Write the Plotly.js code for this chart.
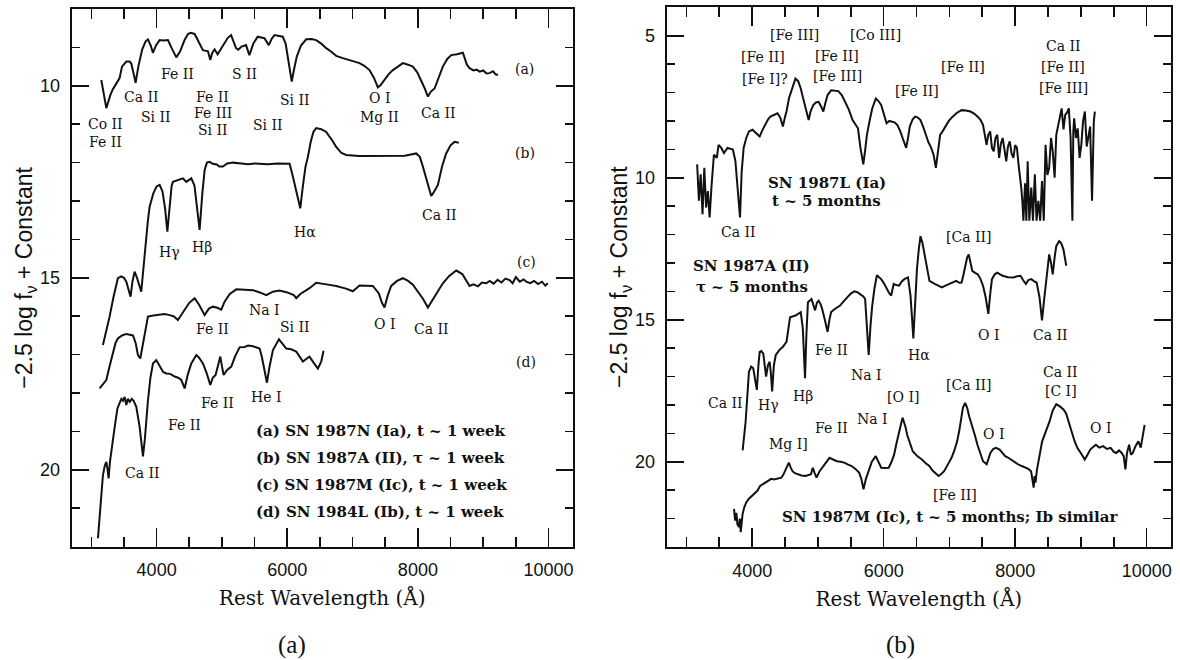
<!DOCTYPE html>
<html>
<head>
<meta charset="utf-8">
<script src="https://cdn.plot.ly/plotly-3.0.1.min.js"></script>
<style>html,body{margin:0;padding:0;background:#fff;}#chart{width:1180px;height:660px;}</style>
</head>
<body>
<div id="chart"></div>
<script>
// ---------- Panel (a): spectra ~1 week after maximum ----------
const sn87N_wl = [3153,3230,3290,3326,3380,3433,3470,3536,3587,3612,3650,3678,3720,3780,3830,3867,3910,3943,3990,4046,4100,4173,4240,4302,4360,4430,4480,4521,4582,4640,4709,4786,4822,4850,4888,4934,4980,5038,5090,5140,5180,5216,5250,5300,5369,5420,5480,5548,5600,5650,5717,5760,5804,5870,5931,5975,6008,6040,6069,6100,6146,6210,6290,6370,6443,6520,6596,6680,6749,6850,6953,7030,7106,7180,7259,7330,7387,7430,7489,7550,7617,7700,7770,7850,7923,7990,8051,8100,8153,8200,8255,8320,8382,8450,8511,8600,8650,8689,8720,8750,8791,8850,8900,8944,9000,9050,9097,9150,9190,9225];
const sn87N_mag = [9.85,10.58,10.25,10.1,9.95,9.8,9.5,9.37,9.37,9.42,9.7,9.92,9.5,9.05,8.85,8.79,8.95,9.14,8.95,8.81,8.82,8.81,9.05,9.26,9.1,8.8,8.65,8.62,8.65,8.85,9.07,9.1,9.33,9.15,9.05,9.18,9.05,8.92,8.75,8.68,8.85,9.02,9.06,8.98,8.94,9.2,8.9,8.72,8.74,8.76,8.94,8.78,8.68,8.7,8.72,8.9,9.24,9.6,9.89,9.6,9.24,8.95,8.79,8.78,8.81,8.9,9.02,9.12,9.22,9.28,9.33,9.37,9.41,9.48,9.59,9.8,10.04,9.98,9.85,9.7,9.59,9.48,9.41,9.45,9.5,9.65,9.85,10.05,10.28,10.15,10.07,9.8,9.5,9.3,9.2,9.18,9.16,9.14,9.3,9.45,9.54,9.6,9.58,9.63,9.6,9.68,9.67,9.62,9.7,9.72];

const sn87A1_wl = [3178,3230,3280,3340,3407,3459,3500,3536,3570,3601,3630,3663,3700,3740,3765,3790,3816,3840,3867,3893,3950,4000,4046,4090,4130,4164,4200,4230,4250,4320,4403,4454,4531,4580,4620,4658,4700,4735,4770,4811,4860,4920,4960,5015,5080,5168,5300,5400,5500,5577,5700,5850,5950,6036,6087,6140,6199,6240,6280,6316,6360,6400,6443,6520,6596,6680,6749,6830,6903,7100,7362,7600,7800,7974,8030,8076,8140,8204,8250,8306,8370,8433,8500,8561,8627];
const sn87A1_mag = [16.75,16.4,16.01,15.5,15.01,14.96,15.0,15.1,15.3,15.49,15.1,14.84,15.0,15.25,15.36,14.9,14.36,13.9,13.5,13.15,12.8,12.62,12.58,12.75,13.2,13.8,13.1,12.6,12.5,12.45,12.41,12.5,12.41,12.6,13.2,13.75,12.8,12.19,12.0,11.98,12.03,12.05,12.1,12.1,12.02,12.0,12.02,12.04,12.02,12.03,12.04,12.02,12.03,12.03,12.37,12.8,13.19,12.6,12.1,11.85,11.45,11.2,11.1,11.13,11.2,11.4,11.59,11.75,11.8,11.83,11.83,11.82,11.82,11.76,11.85,12.1,12.5,12.87,12.75,12.58,12.1,11.76,11.55,11.46,11.48];

const sn87M1_wl = [3127,3180,3230,3280,3331,3370,3407,3470,3536,3600,3638,3680,3714,3750,3790,3832,3867,3950,4046,4120,4199,4260,4326,4380,4429,4500,4582,4650,4735,4800,4862,4930,4990,5041,5120,5220,5350,5475,5580,5679,5780,5883,6000,6100,6138,6200,6341,6443,6600,6749,6900,7004,7106,7200,7310,7400,7450,7489,7540,7591,7680,7770,7850,7923,8000,8080,8153,8250,8320,8382,8480,8587,8680,8750,8791,8850,8920,8980,9046,9100,9160,9220,9280,9340,9403,9450,9500,9560,9620,9658,9720,9780,9840,9900,9950,9990];
const sn87M1_mag = [17.88,17.75,17.66,17.3,16.97,16.7,16.58,16.5,16.46,16.48,16.5,16.7,17.01,17.1,16.7,16.27,16.01,15.98,15.96,15.94,15.97,16.0,16.1,15.95,15.84,15.65,15.53,15.7,15.97,15.8,15.75,15.78,15.83,15.62,15.42,15.3,15.31,15.32,15.38,15.45,15.36,15.33,15.38,15.45,15.53,15.42,15.27,15.13,15.17,15.21,15.28,15.35,15.2,15.2,15.21,15.4,15.65,15.77,15.45,15.21,15.08,15.01,15.08,15.18,15.35,15.55,15.77,15.5,15.3,15.14,14.95,14.81,14.9,15.12,15.21,15.17,15.22,15.12,15.14,15.08,15.15,15.05,15.12,15.02,15.06,15.14,14.98,15.1,15.04,15.1,15.14,15.08,15.16,15.1,15.2,15.14];

const sn84L_wl = [3102,3130,3153,3178,3205,3230,3250,3265,3285,3306,3357,3400,3433,3460,3485,3510,3536,3560,3587,3620,3648,3689,3740,3765,3791,3820,3845,3867,3905,3944,3995,4046,4100,4148,4210,4276,4330,4378,4429,4480,4531,4608,4650,4709,4770,4822,4860,4903,4940,4975,5000,5026,5080,5143,5200,5270,5350,5400,5475,5577,5610,5638,5689,5730,5781,5873,5930,5985,6060,6138,6190,6240,6300,6341,6400,6469,6520,6556];
const sn84L_mag = [21.78,21.2,20.7,20.14,19.9,19.79,20.0,20.22,19.8,19.57,18.9,18.4,18.23,18.15,18.2,18.1,18.31,18.15,18.23,18.15,18.2,18.36,18.88,19.3,19.65,19.2,18.6,18.2,17.6,17.23,17.14,17.31,17.45,17.49,17.5,17.57,17.6,17.66,17.88,17.5,17.23,17.01,17.08,17.23,17.5,17.79,17.6,17.53,17.25,17.05,17.3,17.53,17.4,17.31,17.05,16.81,16.8,16.76,16.78,16.84,17.05,17.31,17.73,17.3,16.88,16.6,16.72,16.84,16.86,16.92,17.05,17.18,17.1,17.05,17.2,17.36,17.18,16.9];

// ---------- Panel (b): spectra ~5 months after maximum ----------
const sn87L_wl = [3163,3190,3217,3245,3272,3299,3326,3353,3380,3418,3462,3489,3530,3571,3625,3680,3707,3745,3788,3815,3840,3870,3910,3951,4005,4060,4114,4150,4196,4240,4277,4330,4386,4430,4467,4500,4522,4560,4603,4658,4700,4739,4780,4821,4859,4890,4929,4970,5011,5050,5082,5115,5147,5201,5260,5310,5365,5419,5470,5527,5570,5609,5647,5690,5720,5745,5790,5826,5881,5920,5962,6000,6044,6085,6125,6165,6207,6250,6288,6342,6370,6397,6440,6478,6520,6560,6600,6641,6680,6723,6760,6794,6825,6859,6900,6940,6990,7049,7110,7185,7250,7321,7380,7430,7470,7511,7540,7565,7590,7620,7647,7674,7700,7728,7756,7783,7810,7837,7864,7890,7918,7945,7973,8000,8027,8050,8071,8090,8109,8125,8150,8170,8190,8215,8245,8270,8299,8325,8353,8380,8408,8435,8462,8490,8517,8545,8571,8600,8625,8665,8707,8735,8761,8790,8816,8843,8870,8884,8897,8925,8951,8980,9006,9033,9060,9088,9114,9140,9169,9185,9196,9212];
const sn87L_mag = [9.53,10.81,9.88,11.28,9.65,11.05,10.47,11.4,10.35,9.19,9.3,8.84,8.95,9.13,8.95,9.0,9.01,9.42,10.81,11.4,9.8,8.95,8.6,8.37,8.31,8.43,8.55,8.35,8.14,7.95,7.85,7.8,7.73,7.9,8.2,7.85,7.67,7.2,6.86,6.51,6.6,6.86,7.25,7.67,7.97,7.65,7.44,7.35,7.33,7.5,7.67,7.35,7.09,6.92,6.93,6.95,7.1,7.33,7.6,7.97,8.1,8.26,8.95,9.53,9.0,8.49,7.95,7.56,7.21,7.3,7.44,7.75,8.08,8.0,8.02,8.05,8.14,8.35,8.6,8.95,8.6,8.2,7.95,7.85,7.88,7.97,8.2,8.49,8.75,8.95,9.2,9.65,9.0,8.49,8.35,8.2,8.0,7.85,7.72,7.62,7.63,7.67,7.75,7.85,7.95,8.14,8.6,8.84,8.5,8.37,8.95,9.07,8.6,8.49,9.3,8.8,8.6,9.1,9.42,8.9,8.72,9.15,9.3,8.85,8.95,9.5,9.88,10.3,10.81,11.51,10.2,11.51,9.42,11.51,10.35,11.51,9.88,11.51,10.81,11.51,10.12,11.51,8.84,9.9,9.65,8.6,9.07,10.0,8.49,8.0,7.56,8.3,7.79,7.7,7.56,8.6,11.51,8.4,7.91,8.6,8.26,9.3,8.84,8.0,7.67,8.9,8.49,8.2,10.81,8.5,8.02,7.67];

const sn87A5_wl = [3855,3900,3951,3985,4016,4045,4071,4095,4114,4140,4169,4190,4212,4240,4266,4285,4304,4330,4359,4413,4467,4522,4550,4576,4658,4739,4770,4790,4804,4825,4848,4902,4930,4957,4985,5011,5040,5065,5105,5147,5175,5201,5256,5300,5337,5390,5446,5500,5554,5600,5636,5690,5718,5745,5772,5800,5826,5860,5897,5930,5962,6000,6044,6080,6114,6152,6190,6234,6275,6315,6370,6408,6430,6451,6475,6506,6535,6560,6590,6625,6660,6696,6777,6830,6886,6940,6995,7050,7103,7150,7185,7215,7239,7270,7294,7320,7348,7390,7430,7470,7511,7550,7592,7620,7647,7690,7728,7770,7810,7890,7973,8030,8082,8120,8163,8200,8245,8290,8326,8370,8408,8440,8473,8500,8517,8545,8571,8600,8625,8669,8700,8734,8760,8777];
const sn87A5_mag = [19.6,18.6,16.83,16.65,16.71,17.1,17.47,16.6,16.13,16.1,16.19,16.6,17.0,16.6,16.48,16.9,17.52,16.6,16.24,16.07,15.95,15.78,15.3,14.91,14.85,14.73,15.3,16.4,17.06,15.5,14.38,14.27,14.5,14.67,14.4,14.33,14.45,14.62,15.0,15.43,15.0,14.73,14.62,14.55,14.5,14.35,14.21,14.08,14.0,14.03,14.09,14.18,14.27,15.2,16.24,15.2,14.5,13.9,13.43,13.5,13.57,13.7,13.92,14.05,14.15,13.74,13.78,13.8,13.65,13.57,13.51,14.15,14.9,15.66,14.6,13.22,12.5,12.06,12.3,12.76,13.3,13.63,13.74,13.8,13.86,13.8,13.74,13.68,13.63,13.7,13.69,13.4,13.1,12.8,12.7,12.95,13.28,13.35,13.4,13.55,13.8,14.2,14.79,14.1,13.57,13.4,13.34,13.4,13.45,13.5,13.51,13.47,13.45,13.6,13.74,13.6,13.57,13.65,13.69,14.2,15.02,14.3,13.69,13.0,12.7,13.0,13.4,12.8,12.41,12.23,12.3,12.52,12.8,13.1];

const sn87M5_wl = [3724,3741,3760,3775,3797,3812,3826,3840,3854,3880,3910,3950,3994,4040,4079,4120,4163,4205,4248,4290,4332,4390,4444,4475,4501,4530,4557,4585,4613,4650,4698,4750,4810,4855,4895,4910,4923,4950,4979,5020,5063,5120,5176,5230,5288,5345,5401,5460,5513,5570,5626,5660,5693,5730,5767,5820,5879,5920,5963,6020,6076,6120,6160,6190,6217,6245,6273,6288,6310,6335,6357,6400,6442,6510,6582,6640,6694,6740,6779,6835,6880,6919,6975,7032,7075,7117,7150,7173,7205,7239,7270,7300,7342,7385,7426,7470,7511,7567,7595,7623,7665,7707,7764,7805,7848,7890,7932,7990,8045,8100,8158,8200,8242,8260,8281,8295,8309,8330,8354,8380,8410,8440,8467,8495,8523,8570,8625,8680,8734,8775,8815,8861,8900,8945,9000,9058,9100,9142,9185,9227,9280,9339,9395,9452,9500,9536,9580,9620,9650,9677,9700,9733,9760,9789,9830,9874,9910,9947,9969];
const sn87M5_mag = [21.66,22.07,21.8,22.2,22.3,22.0,22.48,22.1,21.84,21.6,21.43,21.3,21.2,21.1,21.02,20.85,20.79,20.72,20.67,20.6,20.62,20.58,20.56,20.45,20.33,20.15,20.03,20.2,20.33,20.4,20.44,20.48,20.5,20.47,20.44,20.3,20.21,20.4,20.56,20.35,20.21,20.0,19.86,19.92,19.98,20.0,20.03,20.1,20.15,20.25,20.38,20.6,20.97,20.6,20.33,20.0,19.8,20.0,20.21,20.22,20.21,20.0,19.74,19.4,19.1,18.8,18.58,18.45,18.6,18.8,19.05,19.35,19.63,19.8,19.92,20.05,20.15,20.3,20.38,20.5,20.42,20.33,20.1,19.86,19.6,19.28,18.9,18.58,18.1,17.93,18.1,18.4,18.7,19.05,19.4,19.7,19.98,20.09,19.85,19.69,19.55,19.51,19.57,19.7,19.8,19.85,19.92,20.0,20.09,20.15,20.21,20.25,20.33,20.6,20.91,20.5,20.73,20.3,19.98,19.6,19.28,19.1,18.93,18.75,18.58,18.2,17.97,18.05,18.16,18.3,18.57,18.95,19.25,19.51,19.7,19.92,19.75,19.57,19.48,19.4,19.5,19.45,19.55,19.51,19.65,19.69,19.6,19.69,19.8,20.27,19.7,19.4,19.75,19.69,19.45,19.28,19.5,19.05,18.7];

// ---------- Line identifications: [text, wavelength, magnitude] ----------
const labelsA = [
  ["Co II",3219,10.99],["Fe II",3219,11.45],["Ca II",3766,10.3],["Si II",3995,10.82],
  ["Fe II",4326,9.69],["Fe II",4862,10.3],["Fe III",4862,10.72],["Si II",4862,11.15],
  ["S II",5348,9.69],["Si II",5704,11.02],["Si II",6113,10.37],["O I",7415,10.33],
  ["Mg II",7415,10.8],["Ca II",8308,10.72],
  ["(a)",9636,9.55],["(b)",9636,11.76],["(c)",9662,14.58],["(d)",9662,17.18],
  ["Hγ",4199,14.32],["Hβ",4700,14.19],["Hα",6266,13.8],["Ca II",8334,13.36],
  ["Na I",5654,15.84],["Fe II",4862,16.32],["Si II",6113,16.27],["O I",7492,16.19],["Ca II",8206,16.32],
  ["He I",5680,18.1],["Fe II",4939,18.27],["Fe II",4429,18.83],["Ca II",3790,20.09]
];
const keyA = [
  ["(a) SN 1987N (Ia), t ~ 1 week",5490,19.0],
  ["(b) SN 1987A (II), τ ~ 1 week",5490,19.7],
  ["(c) SN 1987M (Ic), t ~ 1 week",5490,20.4],
  ["(d) SN 1984L (Ib), t ~ 1 week",5490,21.09]
];
const labelsB = [
  ["[Fe III]",4641,4.98],["[Fe II]",4169,5.76],["[Fe I]?",4196,6.53],["[Fe II]",5283,5.7],
  ["[Fe III]",5294,6.42],["[Co III]",5881,4.98],["[Fe II]",7212,6.1],["[Fe II]",6506,6.95],
  ["Ca II",8734,5.35],["[Fe II]",8734,6.1],["[Fe III]",8734,6.84],
  ["Ca II",3796,11.9],["[Ca II]",7300,12.1],
  ["O I",7592,15.55],["Ca II",8544,15.55],["Hα",6533,16.24],["Fe II",5201,16.07],["Na I",5745,16.94],
  ["Ca II",3598,17.93],["Hγ",4250,17.99],["Hβ",4766,17.7],["[O I]",6288,17.73],["Na I",5826,18.51],
  ["Fe II",5201,18.8],["[Ca II]",7294,17.29],["Ca II",8696,16.83],["[C I]",8696,17.52],
  ["O I",7674,19.03],["O I",9305,18.8],["Mg I]",4557,19.37],["[Fe II]",7089,21.16]
];
const keyB = [
  ["SN 1987L (Ia)",5136,10.17],["t ~ 5 months",5136,10.81],
  ["SN 1987A (II)",3995,13.1],["τ ~ 5 months",3995,13.83],
  ["SN 1987M (Ic), t ~ 5 months; Ib similar",7004,21.95]
];

const xTicks = [4000, 6000, 8000, 10000];
const xRange = [2700, 10370];
const yRangeA = [22, 8];
const yRangeB = [23, 4];

// ---------- Figure ----------
const LINE = {color:'#111', width:2};
function tr(x, y, xa, ya){ return {x:x, y:y, xaxis:xa, yaxis:ya, type:'scatter', mode:'lines', line:LINE, hoverinfo:'skip', showlegend:false}; }
const data = [
  tr(sn87N_wl, sn87N_mag, 'x', 'y'),
  tr(sn87A1_wl, sn87A1_mag, 'x', 'y'),
  tr(sn87M1_wl, sn87M1_mag, 'x', 'y'),
  tr(sn84L_wl, sn84L_mag, 'x', 'y'),
  tr(sn87L_wl, sn87L_mag, 'x2', 'y2'),
  tr(sn87A5_wl, sn87A5_mag, 'x2', 'y2'),
  tr(sn87M5_wl, sn87M5_mag, 'x2', 'y2')
];

const SERIF = 'DejaVu Serif, serif';
const annFont = {family:SERIF, size:14, color:'#111'};
const keyFont = {family:SERIF, size:15, color:'#111', weight:'bold'};
const anns = [];
labelsA.forEach(l => anns.push({text:l[0], x:l[1], y:l[2], xref:'x', yref:'y', showarrow:false, xanchor:'center', yanchor:'middle', font:annFont}));
keyA.forEach(l => anns.push({text:l[0], x:l[1], y:l[2], xref:'x', yref:'y', showarrow:false, xanchor:'left', yanchor:'middle', font:keyFont}));
labelsB.forEach(l => anns.push({text:l[0], x:l[1], y:l[2], xref:'x2', yref:'y2', showarrow:false, xanchor:'center', yanchor:'middle', font:annFont}));
keyB.forEach(l => anns.push({text:l[0], x:l[1], y:l[2], xref:'x2', yref:'y2', showarrow:false, xanchor:'center', yanchor:'middle', font:keyFont}));
const capFont = {family:'Liberation Serif, serif', size:25, color:'#111'};
anns.push({text:'(a)', x:292/1180, y:1-645/660, xref:'paper', yref:'paper', showarrow:false, xanchor:'center', yanchor:'middle', font:capFont});
anns.push({text:'(b)', x:900/1180, y:1-645/660, xref:'paper', yref:'paper', showarrow:false, xanchor:'center', yanchor:'middle', font:capFont});

const tickFont = {family:'Liberation Sans, Arial, sans-serif', size:18, color:'#111'};
const xTitleFont = {family:SERIF, size:20, color:'#111'};
const yTitleFont = {family:'Liberation Sans, Arial, sans-serif', size:23, color:'#111'};
function xax(domain, anchor){
  return {domain:domain, anchor:anchor, range:xRange, tickmode:'array', tickvals:xTicks, tickformat:'d',
    ticks:'inside', ticklen:19, tickwidth:1.6, tickcolor:'#111', showline:true, linewidth:2, linecolor:'#111',
    mirror:'ticks', showgrid:false, zeroline:false, tickfont:tickFont,
    ticklabelstandoff:6,
    minor:{dtick:500, tick0:0, ticks:'inside', ticklen:10, tickwidth:1.6, tickcolor:'#111', showgrid:false},
    title:{text:'Rest Wavelength (Å)', font:xTitleFont, standoff:12}};
}
function yax(domain, anchor, range){
  return {domain:domain, anchor:anchor, range:range, tickmode:'linear', tick0:0, dtick:5,
    ticks:'inside', ticklen:17, tickwidth:1.6, tickcolor:'#111', showline:true, linewidth:2, linecolor:'#111',
    mirror:'ticks', showgrid:false, zeroline:false, tickfont:tickFont, ticklabelstandoff:6,
    minor:{dtick:1, tick0:0, ticks:'inside', ticklen:8, tickwidth:1.6, tickcolor:'#111', showgrid:false},
    title:{text:'−2.5 log f<sub>ν</sub> + Constant', font:yTitleFont, standoff:1}};
}

const layout = {
  width:1180, height:660, margin:{l:0, r:0, t:0, b:0},
  paper_bgcolor:'#fff', plot_bgcolor:'#fff', showlegend:false,
  xaxis: xax([71.7/1180, 572.7/1180], 'y'),
  yaxis: yax([1-546.7/660, 1-9/660], 'x', yRangeA),
  xaxis2: xax([666.7/1180, 1171/1180], 'y2'),
  yaxis2: yax([1-547/660, 1-7.3/660], 'x2', yRangeB),
  annotations: anns
};

Plotly.newPlot('chart', data, layout, {staticPlot:true, displayModeBar:false});
</script>
</body>
</html>
